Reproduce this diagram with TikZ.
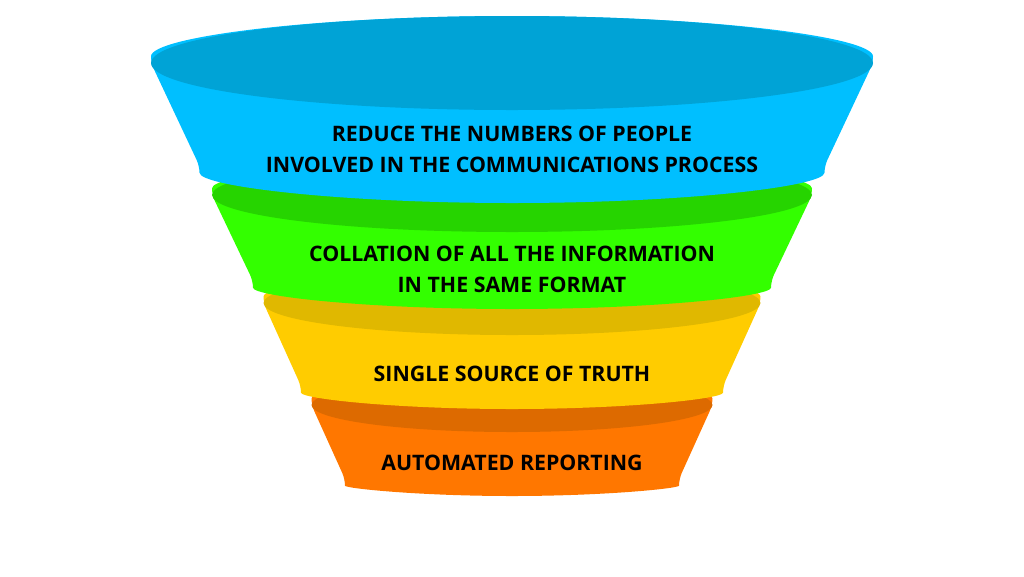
\documentclass[tikz,border=0pt]{standalone}
\usepackage{fontspec}
\setmainfont{Open Sans}
\definecolor{blueside}{RGB}{0,191,255}
\definecolor{bluetop}{RGB}{0,163,214}
\definecolor{greenside}{RGB}{51,255,0}
\definecolor{greentop}{RGB}{38,212,0}
\definecolor{yellowside}{RGB}{255,204,0}
\definecolor{yellowtop}{RGB}{224,184,0}
\definecolor{orangeside}{RGB}{255,119,0}
\definecolor{orangetop}{RGB}{221,106,0}
\begin{document}
\begin{tikzpicture}[
    x=0.75pt, y=-0.75pt,
    line join=round,
    band/.style={rounded corners=5pt},
    stage/.style={font=\fontsize{16}{23.25}\selectfont\bfseries,
        align=center, text=black, inner sep=0pt}
]
    \useasboundingbox (0,0) rectangle (1024,576);

    % Bands are drawn from the bottom up, so each rim hides the top
    % of the band below it.  Rim centre (512,y), bottom arc centre (512,y).
    \fill[orangeside,band] (311.5,405) -- (345,479)
        arc[start angle=180,end angle=0,x radius=167,y radius=17]
        -- (712.5,405)
        arc[start angle=0,end angle=-180,x radius=200.5,y radius=27] -- cycle;
    \fill[orangetop] (512,405) ellipse[x radius=200.5,y radius=27];

    \fill[yellowside,band] (263.5,303) -- (301,386)
        arc[start angle=180,end angle=0,x radius=211,y radius=23]
        -- (760.5,303)
        arc[start angle=0,end angle=-180,x radius=248.5,y radius=32] -- cycle;
    \fill[yellowtop] (512,303) ellipse[x radius=248.5,y radius=32];

    \fill[greenside,band] (212,195) -- (253,281)
        arc[start angle=180,end angle=0,x radius=259,y radius=28]
        -- (812,195)
        arc[start angle=0,end angle=-180,x radius=300,y radius=37] -- cycle;
    \fill[greentop] (512,195) ellipse[x radius=300,y radius=37];

    \fill[blueside,band] (151,63) -- (199.5,166)
        arc[start angle=180,end angle=0,x radius=312.5,y radius=37]
        -- (873,63)
        arc[start angle=0,end angle=-180,x radius=361,y radius=47] -- cycle;
    \fill[bluetop] (512,63) ellipse[x radius=361,y radius=47];

    % Stage texts sit on the front of each band.
    \node[stage] (reduce) at (512,149.5)
        {REDUCE THE NUMBERS OF PEOPLE\\INVOLVED IN THE COMMUNICATIONS PROCESS};
    \node[stage] (collate) at (512,269)
        {COLLATION OF ALL THE INFORMATION\\IN THE SAME FORMAT};
    \node[stage] (truth) at (512,374) {SINGLE SOURCE OF TRUTH};
    \node[stage] (report) at (512,463) {AUTOMATED REPORTING};
\end{tikzpicture}
\end{document}
